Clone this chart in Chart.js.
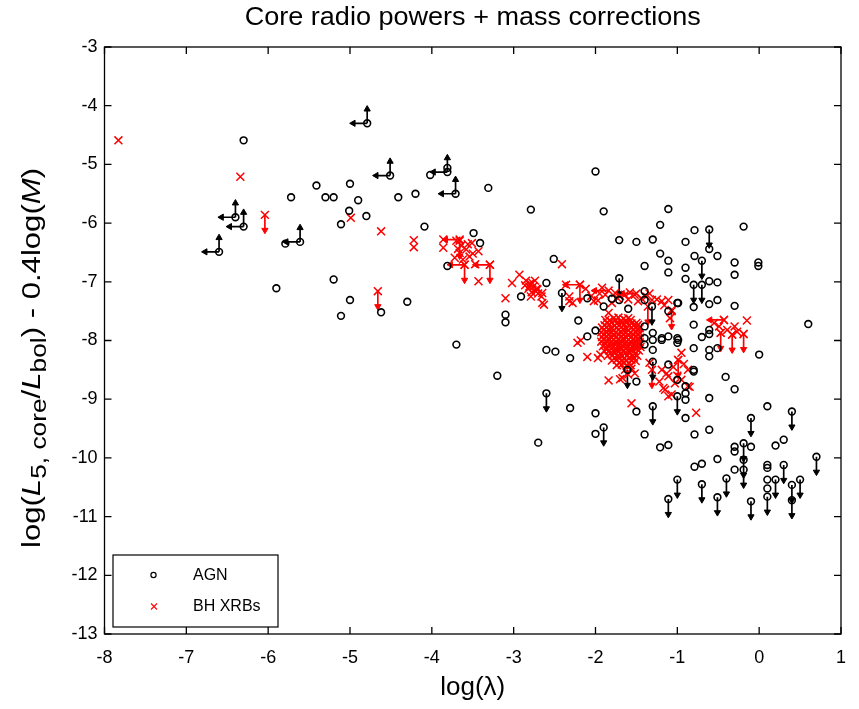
<!DOCTYPE html>
<html><head><meta charset="utf-8">
<script src="https://cdn.jsdelivr.net/npm/chart.js@4.4.0/dist/chart.umd.min.js"></script>
<style>html,body{margin:0;padding:0;background:#fff;}#c{display:block;}</style>
</head><body>
<canvas id="c" width="859" height="709"></canvas>
<script>
// ---------- DATA ----------
const chartTitle = 'Core radio powers + mass corrections';
const xTitle = 'log(\u03bb)';
const xRange = [-8, 1];
const yRange = [-13, -3];
const legendLabels = ['AGN', 'BH XRBs'];

// AGN detections [log(lambda), log(L5core/Lbol)-0.4log(M)]
const agnPoints = [
[-6.30,-4.59],[-5.41,-5.36],[-5.72,-5.56],[-5.30,-5.56],[-5.20,-5.56],[-5.00,-5.33],[-4.90,-5.61],
[-5.01,-5.79],[-5.11,-6.02],[-4.80,-5.88],[-4.41,-5.56],[-4.20,-5.50],[-4.09,-6.06],[-5.90,-7.11],
[-5.20,-6.96],[-5.00,-7.31],[-5.11,-7.58],[-4.62,-7.52],[-4.30,-7.34],[-3.81,-6.73],[-3.70,-8.07],
[-5.79,-6.35],[-4.02,-5.18],[-3.81,-5.06],[-3.49,-6.17],[-3.41,-6.34],[-2.51,-6.61],[-2.60,-7.02],
[-2.91,-7.25],[-3.10,-7.56],[-3.10,-7.69],[-2.10,-7.28],[-2.21,-7.66],[-1.90,-7.42],[-2.00,-7.83],
[-2.00,-5.12],[-2.79,-5.77],[-3.31,-5.40],[-1.90,-5.80],[-1.11,-5.76],[-1.21,-6.03],[-0.79,-6.12],
[-0.19,-6.06],[-1.71,-6.29],[-1.50,-6.32],[-1.30,-6.28],[-0.90,-6.32],[-0.61,-6.44],[-1.21,-6.52],
[-1.11,-6.64],[-0.79,-6.56],[-0.51,-6.56],[-0.30,-6.67],[-0.01,-6.67],[-0.01,-6.73],[-1.40,-6.73],
[-1.11,-6.84],[-0.90,-6.76],[-0.30,-6.88],[-0.90,-6.95],[-0.61,-6.99],[-0.51,-7.01],[-0.51,-7.31],
[-0.61,-7.38],[-0.80,-7.43],[-0.30,-7.41],[-1.00,-7.36],[-1.40,-7.16],[-2.31,-8.30],[-2.49,-8.19],
[-2.10,-7.93],[-1.60,-7.46],[-1.71,-7.31],[-1.80,-7.29],[-1.40,-7.31],[-1.40,-7.76],[-1.30,-7.87],
[-1.30,-7.99],[-1.11,-7.93],[-1.00,-7.96],[-1.00,-8.04],[-1.19,-7.99],[-0.80,-7.73],[-0.61,-7.82],
[-0.61,-7.89],[-0.70,-7.94],[-0.80,-8.13],[-0.61,-8.16],[-0.61,-8.27],[-0.51,-8.13],[0.00,-8.24],
[0.60,-7.72],[-1.30,-8.16],[-1.11,-8.41],[-0.80,-8.50],[-1.00,-8.67],[-0.90,-8.78],[-0.90,-8.90],
[-0.90,-9.01],[-1.50,-8.70],[-1.50,-9.21],[-0.90,-9.32],[-0.79,-9.60],[-0.61,-9.52],[-0.41,-8.62],
[-0.30,-8.83],[-0.61,-8.98],[0.10,-9.12],[-1.40,-9.60],[-2.00,-9.24],[-2.00,-9.59],[-2.31,-9.15],
[-1.21,-9.82],[-1.11,-9.78],[-0.79,-10.15],[-0.70,-10.10],[-0.51,-10.02],[-0.30,-9.81],[-0.30,-9.89],
[-0.10,-9.81],[-0.30,-10.20],[0.20,-9.79],[0.30,-9.69],[0.10,-10.12],[0.10,-10.17],[0.10,-10.37],
[0.10,-10.52],[-2.60,-8.16],[-3.20,-8.60],[-2.70,-9.74],[-0.80,-8.53],[-1.40,-7.96],[-1.40,-8.07],
[-1.19,-7.96],[-0.99,-7.99],[-1.11,-7.50],[-0.99,-7.36]
];
// AGN upper limits (down arrows)
const agnDownPoints = [
[-0.61,-6.11],[-0.70,-6.64],[-1.71,-6.94],[-0.80,-7.05],[-0.70,-7.05],[-2.41,-7.19],[-1.31,-7.42],
[-1.30,-8.36],[-1.00,-8.95],[-1.61,-8.50],[-1.30,-9.12],[-0.10,-9.32],[0.40,-9.21],[-1.90,-9.48],
[-0.19,-9.75],[-0.19,-10.03],[-0.19,-10.20],[0.30,-10.12],[0.20,-10.37],[0.10,-10.66],[0.40,-10.46],
[0.40,-10.72],[0.50,-10.37],[0.70,-9.98],[-0.10,-10.74],[-0.51,-10.67],[-0.40,-10.35],[-0.70,-10.45],
[-1.00,-10.37],[-1.11,-10.70],[-2.60,-8.90]
];
// AGN with left + up arrows
const agnLeftUpPoints = [
[-4.79,-4.30],[-4.51,-5.19],[-3.81,-5.13],[-3.71,-5.50],[-6.40,-5.90],[-6.30,-6.06],[-6.60,-6.49],[-5.61,-6.32]
];

// BH XRBs
const xrbPoints = [
[-7.83,-4.59],[-6.34,-5.21],[-4.99,-5.91],[-4.62,-6.14],[-4.22,-6.29],[-4.22,-6.41],
[-3.86,-6.28],[-3.86,-6.42],[-3.70,-6.30],[-3.64,-6.38],[-3.51,-6.34],[-3.43,-6.48],[-3.54,-6.57],
[-3.72,-6.59],[-3.47,-6.70],[-3.43,-6.99],[-3.66,-6.51],[-3.58,-6.45],[-3.62,-6.62],[-3.68,-6.44],
[-3.56,-6.36],[-3.50,-6.52],
[-2.93,-6.88],[-3.02,-7.02],[-3.10,-7.28],[-2.85,-6.98],[-2.80,-7.03],[-2.76,-7.08],[-2.82,-7.12],
[-2.72,-7.12],[-2.78,-7.18],[-2.70,-7.20],[-2.86,-7.06],[-2.74,-6.98],[-2.79,-7.25],[-2.66,-7.25],
[-2.63,-7.39],[-2.41,-6.70],[-2.77,-7.02],[-2.73,-7.16],[-2.81,-7.08],
[-2.71,-7.13],[-2.65,-7.19],[-2.65,-7.36],[-2.36,-7.05],[-2.32,-7.25],[-2.28,-7.36],[-2.32,-7.33],
[-2.02,-7.33],[-1.97,-7.32],[-1.88,-7.22],[-1.76,-7.19],[-1.80,-7.36],[-1.70,-7.24],[-1.64,-7.22],
[-1.58,-7.18],[-1.52,-7.22],[-1.44,-7.28],[-1.38,-7.25],[-1.31,-7.31],[-1.25,-7.30],[-1.19,-7.33],
[-1.11,-7.31],[-1.07,-7.48],[-1.09,-7.62],[-1.84,-7.53],[-1.88,-7.65],[-2.12,-7.12],[-1.92,-7.10],
[-1.73,-7.28],[-1.60,-7.30],[-1.48,-7.33],[-1.34,-7.20],[-1.16,-7.40],[-1.95,-7.20],[-2.05,-7.24],
// dense clump near log(lambda) = -1.7
[-1.78,-7.62],[-1.72,-7.61],[-1.66,-7.63],[-1.60,-7.62],
[-1.83,-7.66],[-1.75,-7.65],[-1.69,-7.67],[-1.63,-7.66],[-1.57,-7.65],
[-1.86,-7.70],[-1.80,-7.69],[-1.74,-7.71],[-1.68,-7.70],[-1.62,-7.69],[-1.56,-7.71],[-1.50,-7.70],
[-1.89,-7.74],[-1.83,-7.73],[-1.77,-7.75],[-1.71,-7.74],[-1.65,-7.73],[-1.59,-7.75],[-1.53,-7.74],[-1.48,-7.73],
[-1.92,-7.78],[-1.86,-7.77],[-1.80,-7.79],[-1.74,-7.78],[-1.68,-7.77],[-1.62,-7.79],[-1.56,-7.78],[-1.50,-7.77],[-1.46,-7.79],
[-1.90,-7.82],[-1.84,-7.81],[-1.78,-7.83],[-1.72,-7.82],[-1.66,-7.81],[-1.60,-7.83],[-1.54,-7.82],[-1.48,-7.81],
[-1.93,-7.86],[-1.87,-7.85],[-1.81,-7.87],[-1.75,-7.86],[-1.69,-7.85],[-1.63,-7.87],[-1.57,-7.86],[-1.51,-7.85],[-1.46,-7.87],
[-1.90,-7.90],[-1.84,-7.89],[-1.78,-7.91],[-1.72,-7.90],[-1.66,-7.89],[-1.60,-7.91],[-1.54,-7.90],[-1.48,-7.89],
[-1.92,-7.94],[-1.86,-7.93],[-1.80,-7.95],[-1.74,-7.94],[-1.68,-7.93],[-1.62,-7.95],[-1.56,-7.94],[-1.50,-7.93],[-1.45,-7.95],
[-1.90,-7.98],[-1.84,-7.97],[-1.78,-7.99],[-1.72,-7.98],[-1.66,-7.97],[-1.60,-7.99],[-1.54,-7.98],[-1.48,-7.97],
[-1.93,-8.02],[-1.87,-8.01],[-1.81,-8.03],[-1.75,-8.02],[-1.69,-8.01],[-1.63,-8.03],[-1.57,-8.02],[-1.51,-8.01],[-1.46,-8.03],
[-1.88,-8.06],[-1.82,-8.05],[-1.76,-8.07],[-1.70,-8.06],[-1.64,-8.05],[-1.58,-8.07],[-1.52,-8.06],[-1.47,-8.05],
[-1.91,-8.10],[-1.85,-8.09],[-1.79,-8.11],[-1.73,-8.10],[-1.67,-8.09],[-1.61,-8.11],[-1.55,-8.10],[-1.49,-8.09],[-1.45,-8.11],
[-1.86,-8.14],[-1.80,-8.13],[-1.74,-8.15],[-1.68,-8.14],[-1.62,-8.13],[-1.56,-8.15],[-1.50,-8.14],
[-1.89,-8.18],[-1.83,-8.17],[-1.77,-8.19],[-1.71,-8.18],[-1.65,-8.17],[-1.59,-8.19],[-1.53,-8.18],[-1.47,-8.17],
[-1.82,-8.22],[-1.76,-8.21],[-1.70,-8.23],[-1.64,-8.22],[-1.58,-8.21],[-1.52,-8.23],
[-1.85,-8.26],[-1.79,-8.25],[-1.73,-8.27],[-1.67,-8.26],[-1.61,-8.25],[-1.55,-8.27],[-1.49,-8.26],
[-1.77,-8.30],[-1.71,-8.29],[-1.65,-8.31],[-1.59,-8.30],[-1.53,-8.29],
[-1.80,-8.34],[-1.74,-8.33],[-1.68,-8.35],[-1.62,-8.34],[-1.56,-8.33],[-1.51,-8.35],
[-1.71,-8.38],[-1.65,-8.37],[-1.59,-8.39],
[-1.74,-8.42],[-1.68,-8.41],[-1.62,-8.43],[-1.57,-8.42],
// around the clump
[-2.22,-8.04],[-2.18,-8.00],[-2.10,-8.28],[-1.94,-8.24],[-1.97,-8.30],[-1.84,-8.68],[-1.70,-8.66],
[-1.67,-8.64],[-1.64,-8.50],[-1.52,-8.56],[-1.56,-9.07],[-1.60,-8.58],[-1.56,-8.48],
[-0.95,-8.21],[-0.87,-8.50],[-1.19,-8.50],[-1.11,-8.61],[-1.03,-8.73],[-1.15,-8.84],[-1.11,-8.95],
[-0.95,-8.67],[-0.87,-8.78],[-0.99,-8.33],[-1.34,-8.38],[-1.13,-8.56],[-1.17,-8.81],[-1.07,-8.92],
[-0.85,-8.79],[-0.77,-9.23],[-1.05,-8.45],[-0.92,-8.40],[-1.22,-8.70],[-1.00,-8.60],
[-0.43,-7.65],[-0.15,-7.66],[-0.30,-7.76],[-0.49,-7.76],[-0.47,-7.87],[-0.33,-7.90],[-0.19,-7.89],
[-0.39,-7.82],[-0.27,-7.85],[-0.55,-7.70]
];
// XRB limits: down arrows and left arrows
const xrbDownPoints = [
[-6.04,-5.86],[-4.66,-7.16],[-3.66,-6.30],[-3.60,-6.71],[-3.29,-6.71],[-2.19,-7.05],[-1.36,-7.42],
[-1.07,-7.50],[-1.31,-8.50],[-0.47,-7.87],[-0.33,-7.90],[-0.19,-7.89],[-0.99,-8.33]
];
const xrbLeftPoints = [
[-3.66,-6.28],[-3.60,-6.71],[-3.29,-6.71],[-2.19,-7.05],[-1.84,-7.15],[-1.50,-7.20],[-0.43,-7.65]
];

// ---------- BUILD ----------
const FONT = '"Liberation Sans", Arial, Helvetica, sans-serif';
const DOWN_LEN = 0.26, UP_LEN = 0.24, LEFT_LEN = 0.17;
const toXY = p => ({x: p[0], y: p[1]});

function segs(list, dx, dy) {
  const out = [];
  list.forEach(p => { out.push({x: p[0], y: p[1]}); out.push({x: p[0] + dx, y: p[1] + dy}); out.push({x: p[0], y: null}); });
  return out;
}
const tips = (list, dx, dy) => list.map(p => ({x: p[0] + dx, y: p[1] + dy}));

const lineDs = (data, color) => ({type: 'scatter', data, showLine: true, pointRadius: 0, borderColor: color, borderWidth: 1.7, spanGaps: false, order: 5});
const headDs = (data, color, rot) => ({type: 'scatter', data, pointStyle: 'triangle', pointRadius: 3.6, pointRotation: rot, backgroundColor: color, borderColor: color, borderWidth: 1, order: 4});

const datasets = [
  {label: legendLabels[0], data: agnPoints.concat(agnDownPoints, agnLeftUpPoints).map(toXY), pointStyle: 'circle', pointRadius: 3.4,
   borderColor: '#000', backgroundColor: 'rgba(0,0,0,0)', borderWidth: 1.6, order: 2},
  {label: legendLabels[1], data: xrbPoints.concat(xrbDownPoints, xrbLeftPoints).map(toXY), pointStyle: 'crossRot', pointRadius: 5.6,
   borderColor: '#ff0000', backgroundColor: '#ff0000', borderWidth: 1.5, order: 3},
  lineDs(segs(agnDownPoints, 0, -DOWN_LEN), '#000'),
  headDs(tips(agnDownPoints, 0, -DOWN_LEN), '#000', 180),
  lineDs(segs(agnLeftUpPoints, 0, UP_LEN), '#000'),
  headDs(tips(agnLeftUpPoints, 0, UP_LEN), '#000', 0),
  lineDs(segs(agnLeftUpPoints, -LEFT_LEN, 0), '#000'),
  headDs(tips(agnLeftUpPoints, -LEFT_LEN, 0), '#000', 270),
  lineDs(segs(xrbDownPoints, 0, -DOWN_LEN), '#ff0000'),
  headDs(tips(xrbDownPoints, 0, -DOWN_LEN), '#ff0000', 180),
  lineDs(segs(xrbLeftPoints, -LEFT_LEN, 0), '#ff0000'),
  headDs(tips(xrbLeftPoints, -LEFT_LEN, 0), '#ff0000', 270)
];

const framePlugin = {
  id: 'frame',
  afterDraw(chart) {
    const ctx = chart.ctx, a = chart.chartArea, xs = chart.scales.x, ys = chart.scales.y;
    ctx.save();
    ctx.strokeStyle = '#000'; ctx.lineWidth = 1.3;
    ctx.strokeRect(a.left, a.top, a.right - a.left, a.bottom - a.top);
    const T = 7;
    ctx.beginPath();
    xs.ticks.forEach(t => { const px = xs.getPixelForValue(t.value);
      ctx.moveTo(px, a.bottom); ctx.lineTo(px, a.bottom - T); ctx.moveTo(px, a.top); ctx.lineTo(px, a.top + T); });
    ys.ticks.forEach(t => { const py = ys.getPixelForValue(t.value);
      ctx.moveTo(a.left, py); ctx.lineTo(a.left + T, py); ctx.moveTo(a.right, py); ctx.lineTo(a.right - T, py); });
    ctx.stroke();

    // title
    ctx.fillStyle = '#000'; ctx.textAlign = 'center'; ctx.textBaseline = 'middle';
    ctx.font = '26px ' + FONT;
    ctx.save(); ctx.translate((a.left + a.right) / 2, 18); ctx.scale(1.04, 1);
    ctx.fillText(chartTitle, 0, 0); ctx.restore();
    // x title
    ctx.font = '26px ' + FONT;
    ctx.fillText(xTitle, (a.left + a.right) / 2, 688);

    // y title with italics and subscripts
    const big = 26, small = 22;
    const parts = [
      ['log(', 'n'], ['L', 'i'], ['5, core', 's'], ['/', 'n'], ['L', 'i'], ['bol', 's'],
      [') - 0.4log(', 'n'], ['M', 'i'], [')', 'n']
    ];
    const fontOf = k => k === 'i' ? 'italic ' + big + 'px ' + FONT : (k === 's' ? small + 'px ' + FONT : big + 'px ' + FONT);
    let total = 0;
    parts.forEach(p => { ctx.font = fontOf(p[1]); total += ctx.measureText(p[0]).width; });
    const targetLen = 380;
    ctx.translate(31, 358);
    ctx.rotate(-Math.PI / 2);
    ctx.scale(targetLen / total, 1);
    ctx.textAlign = 'left'; ctx.textBaseline = 'alphabetic';
    let cx = -total / 2;
    parts.forEach(p => { ctx.font = fontOf(p[1]); const dy = p[1] === 's' ? 6 : 0;
      ctx.fillText(p[0], cx, 9 + dy); cx += ctx.measureText(p[0]).width; });
    ctx.setTransform(1, 0, 0, 1, 0, 0);

    // legend
    const L = {x: 113, y: 555, w: 165, h: 72};
    ctx.fillStyle = '#fff'; ctx.fillRect(L.x, L.y, L.w, L.h);
    ctx.strokeStyle = '#000'; ctx.lineWidth = 1.2; ctx.strokeRect(L.x, L.y, L.w, L.h);
    ctx.beginPath(); ctx.arc(153.5, 575, 2.6, 0, Math.PI * 2); ctx.lineWidth = 1.2; ctx.strokeStyle = '#000'; ctx.stroke();
    ctx.beginPath(); ctx.strokeStyle = '#ff0000'; ctx.lineWidth = 1.1;
    ctx.moveTo(151, 603.5); ctx.lineTo(157, 609.5); ctx.moveTo(157, 603.5); ctx.lineTo(151, 609.5); ctx.stroke();
    ctx.fillStyle = '#000'; ctx.font = '16px ' + FONT; ctx.textAlign = 'left'; ctx.textBaseline = 'middle';
    ctx.fillText(legendLabels[0], 193, 576);
    ctx.fillText(legendLabels[1], 193, 607);
    ctx.restore();
  }
};

new Chart(document.getElementById('c'), {
  type: 'scatter',
  data: {datasets},
  options: {
    responsive: false, animation: false, devicePixelRatio: 1, events: [],
    layout: {padding: {top: 47, right: 11, left: 0, bottom: 0}},
    plugins: {legend: {display: false}, tooltip: {enabled: false}, title: {display: false}},
    scales: {
      x: {type: 'linear', min: xRange[0], max: xRange[1],
          ticks: {stepSize: 1, autoSkip: false, maxRotation: 0, color: '#000', padding: 13, font: {size: 18, family: FONT}},
          grid: {display: false, drawTicks: false}, border: {display: false},
          afterFit: s => { s.height = 75; }},
      y: {type: 'linear', min: yRange[0], max: yRange[1],
          ticks: {stepSize: 1, autoSkip: false, color: '#000', padding: 7, font: {size: 18, family: FONT}},
          grid: {display: false, drawTicks: false}, border: {display: false},
          afterFit: s => { s.width = 104.5; }}
    }
  },
  plugins: [framePlugin]
});
</script>
</body></html>
